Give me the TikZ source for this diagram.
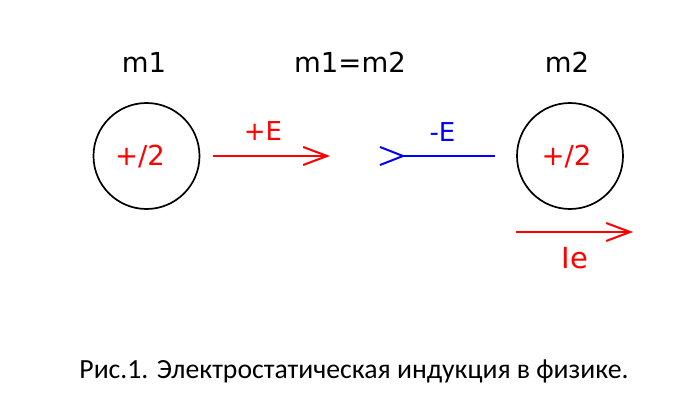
\documentclass[tikz,border=0pt]{standalone}
\usepackage{fontspec}
\setmainfont{DejaVu Sans}
\newfontfamily\capfont{Carlito}
\usetikzlibrary{arrows.meta}
\tikzset{
  lbl/.style={inner sep=0pt, anchor=base},
  ball/.style={circle, draw=black, line width=1.7pt, minimum size=106pt, inner sep=0pt},
  redarrow/.style={draw=red, line width=2pt, -{Straight Barb[length=24pt,width=18pt,line width=2pt]}},
  blueline/.style={draw=blue, line width=2pt},
}
\begin{document}
\begin{tikzpicture}[x=1pt,y=-1pt]
\useasboundingbox (0,0) rectangle (691,409);
% circles
\node[ball] (c1) at (146.5,156) {};
\node[ball] (c2) at (570,156) {};
% top labels
\node[lbl] (m1) at (144,73) {\fontsize{27.5}{30}\selectfont m1};
\node[lbl] (m12) at (350,73) {\fontsize{27.5}{30}\selectfont m1=m2};
\node[lbl] (m2) at (567,73) {\fontsize{27.5}{30}\selectfont m2};
% charges
\node[lbl,text=red] (q1) at (140,166) {\fontsize{27.5}{30}\selectfont +/2};
\node[lbl,text=red] (q2) at (566.5,166) {\fontsize{27.5}{30}\selectfont +/2};
% +E arrow
\coordinate (Es) at (213,156);
\coordinate (Ee) at (330,156);
\draw[redarrow] (Es) -- (Ee);
\node[lbl,text=red] (Elbl) at (263,141) {\fontsize{26}{28}\selectfont +E};
% -E line with chevron
\coordinate (Bs) at (403,156);
\coordinate (Be) at (495,156);
\draw[blueline] (Bs) -- (Be);
\draw[blueline] (Bs) ++(-23,-9) -- (Bs) -- ++(-23,9);
\node[lbl,text=blue] (mE) at (442.5,142) {\fontsize{26}{28}\selectfont -E};
% Ie arrow
\coordinate (Is) at (516,232);
\coordinate (Ie) at (633,232);
\draw[redarrow] (Is) -- (Ie);
\node[lbl,text=red] (Ilbl) at (575,268) {\fontsize{29}{30}\selectfont Ie};
% caption
\node[lbl] (cap) at (354,378) {\capfont\fontsize{27.7}{30}\selectfont Рис.1. Электростатическая индукция в физике.};
\end{tikzpicture}
\end{document}
